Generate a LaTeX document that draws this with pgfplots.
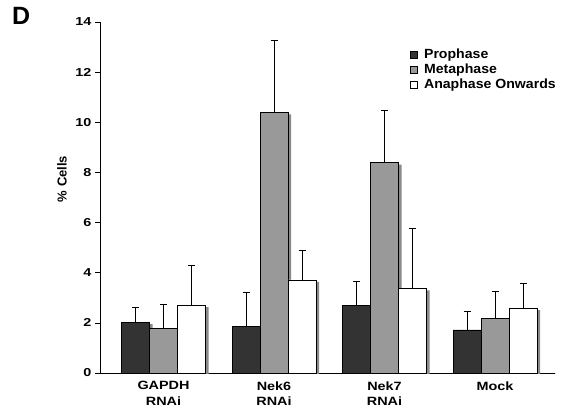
\documentclass[border=0pt]{standalone}
\usepackage{fontspec}
\setmainfont{Liberation Sans}
\newfontfamily\wideY[FakeStretch=1.25]{Liberation Sans}
\newfontfamily\wideX[FakeStretch=1.2]{Liberation Sans}
\newfontfamily\wideL[FakeStretch=1.06]{Liberation Sans}
\usepackage{pgfplots}
\usepackage{pgfplotstable}
\pgfplotsset{compat=1.18}
\definecolor{proC}{HTML}{333333}
\definecolor{metC}{HTML}{999999}
\definecolor{shadC}{HTML}{8A8A8A}
\pgfplotstableread{
x p pe m me a ae
0 2.03 0.59 1.78 0.96 2.71 1.60
1 1.87 1.35 10.40 2.88 3.71 1.20
2 2.70 0.97 8.39 2.10 3.38 2.40
3 1.72 0.75 2.19 1.08 2.59 1.00
}\datatab
\tikzset{myshadow/.style={preaction={fill=shadC, draw=none, transform canvas={xshift=3pt, yshift=-2pt}}}}
\begin{document}
\begin{tikzpicture}
\useasboundingbox (-100pt,-40pt) rectangle (465pt,373pt);
\begin{axis}[
  at={(0pt,0pt)}, anchor=south west,
  scale only axis, width=455pt, height=351pt,
  xmin=-0.575, xmax=3.543, ymin=0, ymax=14,
  axis x line=bottom, axis y line=left,
  axis line style={-, line width=0.6pt},
  ytick={0,2,...,14}, tick align=outside, major tick length=5pt,
  y tick style={line width=0.6pt, black},
  xtick={0,1,2,3},
  xticklabels={{GAPDH\\RNAi},{Nek6\\RNAi},{Nek7\\RNAi},{Mock}},
  x tick style={draw=none},
  xticklabel style={align=center, font=\wideX\bfseries\fontsize{12}{15.5}\selectfont},
  yticklabel style={font=\wideY\bfseries\fontsize{11.5}{14}\selectfont},
  /pgf/number format/assume math mode=true,
  ybar=0pt, bar width=28pt,
  error bars/y dir=plus, error bars/y explicit,
  error bars/error bar style={black, line width=0.6pt},
  error bars/error mark options={rotate=90, mark size=3.5pt, line width=0.6pt, black},
  legend style={at={(rel axis cs:0.680,0.93)}, anchor=north west, draw=none, fill=none,
    font=\wideL\bfseries\fontsize{13.3}{16}\selectfont, inner sep=0pt, row sep=0pt},
  legend cell align=left,
]
\addlegendimage{legend image code/.code={\draw[fill=proC,draw=black,line width=0.6pt] (0pt,-3.5pt) rectangle (7pt,3.5pt); \path (12pt,0pt);}}
\addlegendentry{Prophase}
\addlegendimage{legend image code/.code={\draw[fill=metC,draw=black,line width=0.6pt] (0pt,-3.5pt) rectangle (7pt,3.5pt); \path (12pt,0pt);}}
\addlegendentry{Metaphase}
\addlegendimage{legend image code/.code={\draw[fill=white,draw=black,line width=0.6pt] (0pt,-3.5pt) rectangle (7pt,3.5pt); \path (12pt,0pt);}}
\addlegendentry{Anaphase Onwards}
\addplot[fill=proC, draw=black, line width=0.6pt, myshadow, forget plot, bar shift=-28pt] table[x=x, y=p, y error=pe] {\datatab};
\addplot[fill=metC, draw=black, line width=0.6pt, myshadow, forget plot, bar shift=0pt] table[x=x, y=m, y error=me] {\datatab};
\addplot[fill=white, draw=black, line width=0.6pt, myshadow, forget plot, bar shift=28pt] table[x=x, y=a, y error=ae] {\datatab};
\draw[line width=0.6pt] (axis cs:3.543,0) -- ++(0pt,-5pt);
\end{axis}
\node[rotate=90, font=\bfseries\fontsize{13}{16}\selectfont] at (-38pt,194pt) {\% Cells};
\node[anchor=base west, inner sep=0pt, font=\bfseries\fontsize{25}{28}\selectfont] at (-88pt,348pt) {D};
\end{tikzpicture}
\end{document}
